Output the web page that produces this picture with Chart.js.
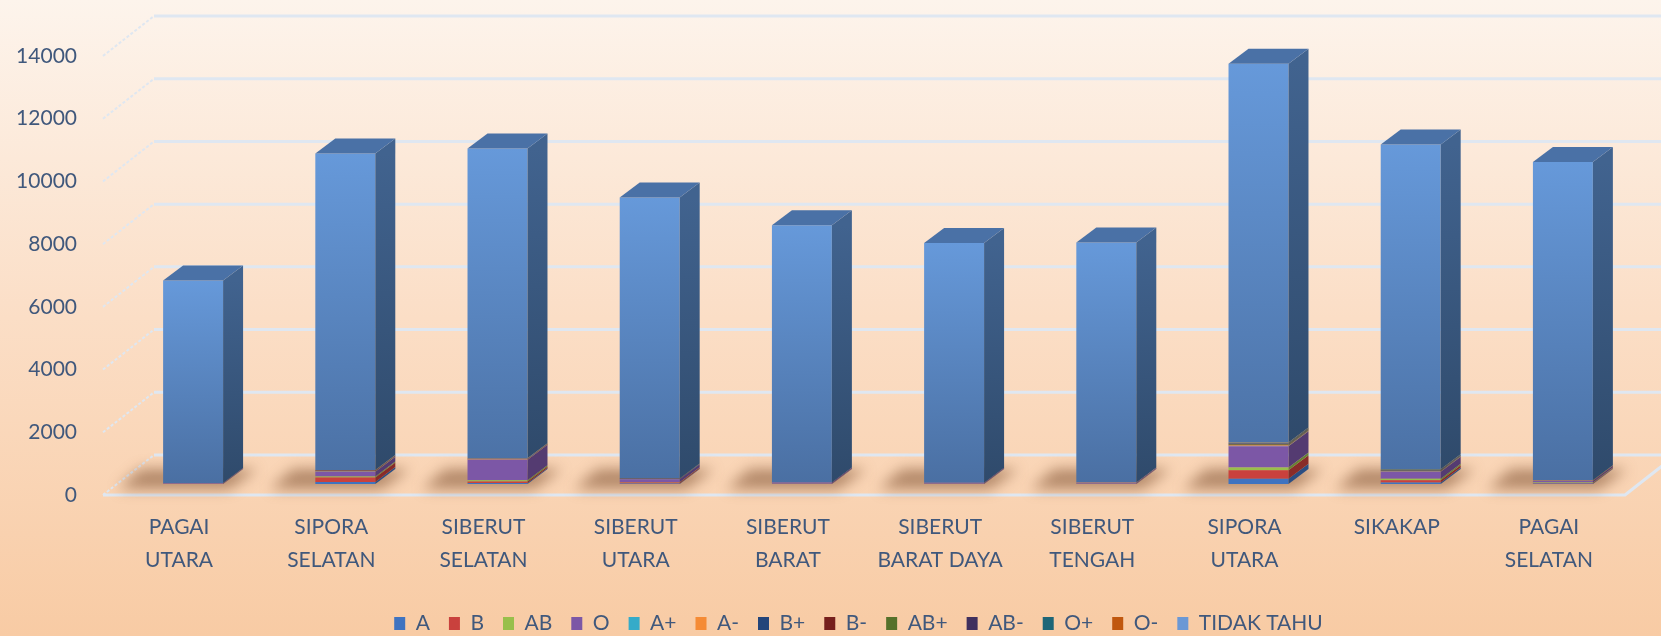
<!DOCTYPE html>
<html>
<head>
<meta charset="utf-8">
<script src="https://cdn.jsdelivr.net/npm/chart.js@4.4.1/dist/chart.umd.min.js"></script>
<style>
html, body { margin: 0; padding: 0; background: #fbdcc3; }
#wrap { width: 1661px; height: 636px; }
</style>
</head>
<body>
<div id="wrap"><canvas id="myChart" width="1661" height="636"></canvas></div>
<script>
// categories (kecamatan)
var categories = [
    ['PAGAI', 'UTARA'], ['SIPORA', 'SELATAN'], ['SIBERUT', 'SELATAN'], ['SIBERUT', 'UTARA'],
    ['SIBERUT', 'BARAT'], ['SIBERUT', 'BARAT DAYA'], ['SIBERUT', 'TENGAH'], ['SIPORA', 'UTARA'],
    ['SIKAKAP'], ['PAGAI', 'SELATAN']
];
var yTicks = [0, 2000, 4000, 6000, 8000, 10000, 12000, 14000];

// blood type series
var seriesNames = ['A', 'B', 'AB', 'O', 'A+', 'A-', 'B+', 'B-', 'AB+', 'AB-', 'O+', 'O-', 'TIDAK TAHU'];
var seriesColors = ['#3f73c0', '#c9413d', '#98bf4b', '#7c57a6', '#35abc9', '#f58b35', '#24457a', '#761f1c', '#55712a', '#40305e', '#1e6677', '#c0570e', '#6b98d5'];

var valA      = [5, 60, 30, 15, 5, 5, 5, 170, 50, 15];
var valB      = [10, 150, 50, 30, 10, 10, 10, 265, 70, 20];
var valAB     = [3, 30, 40, 10, 3, 3, 3, 95, 50, 10];
var valO      = [15, 150, 650, 100, 30, 20, 25, 670, 220, 60];
var valAplus  = [0, 5, 5, 2, 0, 0, 0, 10, 5, 2];
var valAmin   = [0, 10, 10, 3, 1, 1, 1, 15, 10, 3];
var valBplus  = [0, 5, 5, 2, 0, 0, 0, 15, 5, 2];
var valBmin   = [0, 10, 5, 2, 0, 0, 0, 10, 5, 2];
var valABplus = [0, 5, 5, 2, 0, 0, 0, 25, 10, 2];
var valABmin  = [0, 5, 5, 2, 0, 0, 0, 15, 15, 2];
var valOplus  = [0, 10, 10, 5, 1, 1, 1, 25, 20, 3];
var valOmin   = [0, 5, 5, 2, 0, 0, 0, 10, 10, 2];
var valTidak  = [6457, 10095, 9880, 8960, 8205, 7645, 7660, 12075, 10355, 10147];

var seriesValues = [valA, valB, valAB, valO, valAplus, valAmin, valBplus, valBmin, valABplus, valABmin, valOplus, valOmin, valTidak];

// fake 3d: bar depth, back wall offset, shift of bars behind the front plane
var DEPTH_X = 20, DEPTH_Y = 15;
var WALL_X = 51, WALL_Y = 40;
var SHIFT_X = 14, SHIFT_Y = -11;
var TEXT = '#40587c';
var FONT = 'Lato, "Open Sans", sans-serif';

function shade(hex, f) {
    var n = parseInt(hex.slice(1), 16);
    var r = Math.round(((n >> 16) & 255) * f), g = Math.round(((n >> 8) & 255) * f), b = Math.round((n & 255) * f);
    return 'rgb(' + r + ',' + g + ',' + b + ')';
}

function stackTop(i) {
    var s = 0;
    seriesValues.forEach(function(v) { s += v[i]; });
    return s;
}

var depth3d = {
    id: 'depth3d',
    beforeDraw: function(chart) {
        var ctx = chart.ctx;
        var g = ctx.createLinearGradient(0, 0, 0, chart.height);
        g.addColorStop(0, '#fdf4ec');
        g.addColorStop(0.5, '#fbdec6');
        g.addColorStop(1, '#f8cba4');
        ctx.save();
        ctx.fillStyle = g;
        ctx.fillRect(0, 0, chart.width, chart.height);
        ctx.restore();
    },
    afterLayout: function(chart) {
        // legend row: a bit lower and centred under the plot
        chart.legend.left += 92;
        chart.legend.top += 8;
        chart.legend.bottom += 8;
    },
    beforeDatasetsDraw: function(chart) {
        var ctx = chart.ctx, area = chart.chartArea, ys = chart.scales.y;
        ctx.save();
        ctx.strokeStyle = '#dfe7f1';
        ys.ticks.forEach(function(t) {
            var y = ys.getPixelForValue(t.value);
            ctx.lineWidth = 2;
            ctx.setLineDash([3, 2]);
            ctx.beginPath();
            ctx.moveTo(area.left, y);
            ctx.lineTo(area.left + WALL_X, y - WALL_Y);
            ctx.stroke();
            ctx.setLineDash([]);
            ctx.lineWidth = 3;
            ctx.beginPath();
            ctx.moveTo(area.left + WALL_X, y - WALL_Y);
            ctx.lineTo(area.right + WALL_X, y - WALL_Y);
            ctx.stroke();
        });
        // front edge of the floor
        ctx.lineWidth = 3;
        ctx.beginPath();
        ctx.moveTo(area.left, area.bottom);
        ctx.lineTo(area.right, area.bottom);
        ctx.lineTo(area.right + WALL_X, area.bottom - WALL_Y);
        ctx.stroke();

        // soft floor shadows
        var meta = chart.getDatasetMeta(seriesNames.length - 1);
        ctx.filter = 'blur(7px)';
        ctx.fillStyle = 'rgba(110,62,30,0.5)';
        meta.data.forEach(function(bar) {
            var p = bar.getProps(['x', 'base', 'width'], true);
            var xl = p.x - p.width / 2 + SHIFT_X, xr = p.x + p.width / 2 + SHIFT_X;
            var yb = ys.getPixelForValue(0) + SHIFT_Y;
            ctx.beginPath();
            ctx.moveTo(xl - 45, yb + 5);
            ctx.lineTo(xr + 6, yb + 5);
            ctx.lineTo(xr + DEPTH_X + 14, yb - DEPTH_Y);
            ctx.lineTo(xl - 22, yb - DEPTH_Y);
            ctx.closePath();
            ctx.fill();
        });
        ctx.filter = 'none';
        ctx.restore();

        ctx.save();
        ctx.translate(SHIFT_X, SHIFT_Y);
    },
    afterDatasetsDraw: function(chart) {
        var ctx = chart.ctx;
        var last = seriesNames.length - 1;
        seriesNames.forEach(function(name, di) {
            var meta = chart.getDatasetMeta(di);
            meta.data.forEach(function(bar) {
                var p = bar.getProps(['x', 'y', 'base', 'width'], true);
                var xl = p.x - p.width / 2, xr = p.x + p.width / 2;
                var top = Math.min(p.y, p.base), bot = Math.max(p.y, p.base);
                if (bot - top < 0.05) return;
                var side;
                if (di === last) {
                    side = ctx.createLinearGradient(0, top, 0, bot);
                    side.addColorStop(0, '#41638f');
                    side.addColorStop(1, '#2f4a6b');
                } else {
                    side = shade(seriesColors[di], 0.68);
                }
                ctx.fillStyle = side;
                ctx.beginPath();
                ctx.moveTo(xr, top);
                ctx.lineTo(xr + DEPTH_X, top - DEPTH_Y);
                ctx.lineTo(xr + DEPTH_X, bot - DEPTH_Y);
                ctx.lineTo(xr, bot);
                ctx.closePath();
                ctx.fill();
                if (di === last) {
                    ctx.fillStyle = '#4a71a6';
                    ctx.beginPath();
                    ctx.moveTo(xl, top);
                    ctx.lineTo(xl + DEPTH_X, top - DEPTH_Y);
                    ctx.lineTo(xr + DEPTH_X, top - DEPTH_Y);
                    ctx.lineTo(xr, top);
                    ctx.closePath();
                    ctx.fill();
                }
            });
        });
        ctx.restore();
    }
};

var datasets = seriesNames.map(function(name, i) {
    return {
        label: name,
        data: seriesValues[i],
        borderWidth: 0,
        clip: false,
        backgroundColor: i < seriesNames.length - 1 ? seriesColors[i] : function(c) {
            var chart = c.chart, ys = chart.scales.y;
            if (c.type !== 'data' || !ys) return seriesColors[i];
            var top = ys.getPixelForValue(stackTop(c.dataIndex));
            var bot = ys.getPixelForValue(0);
            var g = chart.ctx.createLinearGradient(0, top, 0, bot);
            g.addColorStop(0, '#6699da');
            g.addColorStop(1, '#4a6fa2');
            return g;
        }
    };
});

var ctx = document.getElementById('myChart');
var myChart = new Chart(ctx, {
    type: 'bar',
    data: { labels: categories, datasets: datasets },
    plugins: [depth3d],
    options: {
        responsive: false,
        animation: false,
        devicePixelRatio: 1,
        barPercentage: 0.394,
        categoryPercentage: 1,
        layout: { padding: { left: 0, right: 36, top: 56, bottom: 0 } },
        plugins: {
            tooltip: { enabled: false },
            legend: {
                position: 'bottom',
                labels: {
                    boxWidth: 11,
                    boxHeight: 13,
                    padding: 19,
                    font: { family: FONT, size: 21 },
                    color: TEXT,
                    generateLabels: function(chart) {
                        return seriesNames.map(function(n, i) {
                            return { text: n, fillStyle: seriesColors[i], strokeStyle: seriesColors[i], lineWidth: 0, datasetIndex: i, fontColor: TEXT };
                        });
                    }
                }
            }
        },
        scales: {
            x: {
                stacked: true,
                grid: { display: false, drawTicks: false },
                border: { display: false },
                ticks: { autoSkip: false, maxRotation: 0, padding: 16, color: TEXT, font: { family: FONT, size: 21, lineHeight: 1.56 } },
                afterFit: function(s) { s.height = 91; }
            },
            y: {
                stacked: true,
                min: 0,
                max: 14000,
                grid: { display: false, drawTicks: false },
                border: { display: false },
                afterBuildTicks: function(s) { s.ticks = yTicks.map(function(v) { return { value: v }; }); },
                ticks: {
                    padding: 26,
                    color: TEXT,
                    font: { family: FONT, size: 21 },
                    callback: function(v) { return String(v); }
                },
                afterFit: function(s) { s.width = 103; }
            }
        }
    }
});
</script>
</body>
</html>
